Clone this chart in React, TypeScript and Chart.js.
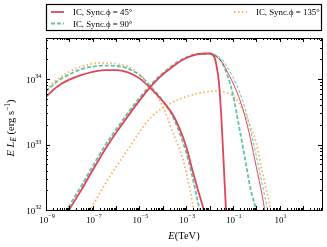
import React, { useEffect, useRef } from 'react';
import { Chart, registerables } from 'chart.js';
Chart.register(...registerables);

const SERIF = '"Liberation Serif", "DejaVu Serif", serif';

const RED = '#de4557';
const GREEN = '#66c2a5';
const ORANGE = '#fdae61';

// axis ranges
const X_MIN = 1e-9;
const X_MAX = 6.5e2;
const Y_MIN = 1e32;
const Y_MAX = 4.23e34;

// labelled tick exponents
const xLabelExps = [-9, -7, -5, -3, -1, 1];
const yLabelExps = [32, 33, 34];

const legendLabels = ['IC, Sync.ϕ = 45°', 'IC, Sync.ϕ = 90°', 'IC, Sync.ϕ = 135°'];

// values as log10(E / TeV) and log10(E L_E / erg s^-1)
const sync45LogE = [-9, -8.5, -8, -7.5, -7, -6.5, -6, -5.5, -5, -4.5, -4, -3.5, -3, -2.75, -2.5, -2.25, -2.1];
const sync45LogL = [33.73, 33.89, 33.99, 34.06, 34.11, 34.135, 34.135, 34.1, 34.01, 33.85, 33.66, 33.41, 32.97, 32.63, 32.31, 32.0, 31.75];

const sync90LogE = [-9, -8.5, -8, -7.5, -7, -6.5, -6, -5.5, -5, -4.5, -4, -3.5, -3, -2.75, -2.43, -2.3];
const sync90LogL = [33.81, 33.97, 34.07, 34.15, 34.19, 34.205, 34.2, 34.16, 34.06, 33.88, 33.67, 33.37, 32.88, 32.53, 32.0, 31.75];

const sync135LogE = [-9, -8.5, -8, -7.5, -7, -6.5, -6, -5.5, -5, -4.5, -4, -3.5, -3.25, -3, -2.67, -2.55];
const sync135LogL = [33.84, 34.0, 34.11, 34.19, 34.235, 34.245, 34.23, 34.19, 34.07, 33.87, 33.58, 33.12, 32.9, 32.58, 32.0, 31.75];

const ic45LogE = [-8.2, -8.02, -7.5, -7, -6.5, -6, -5.5, -5, -4.5, -4, -3.75, -3.5, -3, -2.5, -2, -1.8, -1.7, -1.6, -1.5, -1.4, -1.3, -1.25];
const ic45LogL = [31.9, 32.0, 32.3, 32.61, 32.91, 33.18, 33.43, 33.67, 33.89, 34.07, 34.14, 34.21, 34.32, 34.38, 34.39, 34.34, 34.2, 33.95, 33.45, 32.75, 32.02, 31.7];

const ic45ThinLogE = [-2.25, -2, -1.75, -1.5, -1.25, -1, -0.75, -0.5, -0.25, 0, 0.25, 0.36, 0.45];
const ic45ThinLogL = [34.385, 34.39, 34.35, 34.27, 34.12, 33.94, 33.73, 33.45, 33.09, 32.66, 32.23, 32.0, 31.8];

const ic90LogE = [-8.3, -8.11, -7.5, -7, -6.5, -6, -5.5, -5, -4.5, -4, -3.75, -3.5, -3, -2.5, -2, -1.75, -1.5, -1.25, -1, -0.75, -0.5, -0.25, 0, 0.1];
const ic90LogL = [31.88, 32.0, 32.36, 32.67, 32.97, 33.23, 33.48, 33.71, 33.92, 34.09, 34.16, 34.23, 34.33, 34.385, 34.39, 34.36, 34.27, 34.07, 33.76, 33.3, 32.82, 32.33, 32.0, 31.85];

const ic90ThinLogE = [-2.25, -2, -1.75, -1.5, -1.25, -1, -0.75, -0.5, -0.25, 0, 0.25, 0.48, 0.55];
const ic90ThinLogL = [34.385, 34.39, 34.37, 34.31, 34.19, 34.03, 33.83, 33.58, 33.23, 32.83, 32.4, 32.0, 31.85];

const ic135LogE = [-7.3, -7.1, -6.5, -6, -5.5, -5, -4.5, -4, -3.5, -3, -2.5, -2, -1.7, -1.5, -1.25, -1, -0.75, -0.5, -0.25, 0, 0.25, 0.5, 0.62, 0.7];
const ic135LogL = [31.86, 32.0, 32.38, 32.66, 32.92, 33.19, 33.42, 33.56, 33.66, 33.73, 33.78, 33.81, 33.82, 33.81, 33.79, 33.74, 33.64, 33.48, 33.27, 33.02, 32.6, 32.2, 32.0, 31.85];

const pts = (le: number[], ll: number[]) => le.map((e, i) => ({ x: Math.pow(10, e), y: Math.pow(10, ll[i]) }));

type Seg = { t: string; italic?: boolean; size: number; dy?: number };

function drawRich(ctx: CanvasRenderingContext2D, segs: Seg[], x: number, y: number, align: 'left' | 'center' | 'right') {
  const fontOf = (s: Seg) => `${s.italic ? 'italic ' : ''}${s.size}px ${SERIF}`;
  let total = 0;
  const widths = segs.map((s) => {
    ctx.font = fontOf(s);
    const w = ctx.measureText(s.t).width;
    total += w;
    return w;
  });
  let cx = align === 'left' ? x : align === 'center' ? x - total / 2 : x - total;
  ctx.textAlign = 'left';
  ctx.textBaseline = 'alphabetic';
  segs.forEach((s, i) => {
    ctx.font = fontOf(s);
    ctx.fillText(s.t, cx, y + (s.dy || 0));
    cx += widths[i];
  });
}

const expStr = (n: number) => (n < 0 ? '\u2212' + Math.abs(n) : String(n));

const decor = {
  id: 'decor',
  afterDraw(chart: any) {
    const { ctx, chartArea: a, scales } = chart;
    const xs = scales.x;
    const ys = scales.y;
    ctx.save();
    ctx.fillStyle = '#000';
    ctx.strokeStyle = '#000';
    ctx.lineWidth = 1;
    // frame
    ctx.strokeRect(Math.round(a.left) + 0.5, Math.round(a.top) + 0.5, Math.round(a.right - a.left), Math.round(a.bottom - a.top));
    // x ticks
    for (let d = -10; d <= 3; d++) {
      for (let m = 1; m <= 9; m++) {
        const v = m * Math.pow(10, d);
        if (v < X_MIN * 0.999 || v > X_MAX) continue;
        const px = Math.round(xs.getPixelForValue(v)) + 0.5;
        const len = m === 1 ? 4 : 2;
        ctx.beginPath();
        ctx.moveTo(px, a.bottom);
        ctx.lineTo(px, a.bottom - len);
        ctx.moveTo(px, a.top);
        ctx.lineTo(px, a.top + len);
        ctx.stroke();
      }
    }
    for (let d = 31; d <= 35; d++) {
      for (let m = 1; m <= 9; m++) {
        const v = m * Math.pow(10, d);
        if (v < Y_MIN * 0.999 || v > Y_MAX) continue;
        const py = Math.round(ys.getPixelForValue(v)) + 0.5;
        const len = m === 1 ? 4 : 2;
        ctx.beginPath();
        ctx.moveTo(a.left, py);
        ctx.lineTo(a.left + len, py);
        ctx.moveTo(a.right, py);
        ctx.lineTo(a.right - len, py);
        ctx.stroke();
      }
    }
    // x tick labels
    xLabelExps.forEach((e) => {
      const px = xs.getPixelForValue(Math.pow(10, e));
      drawRich(ctx, [
        { t: '10', size: 9 },
        { t: expStr(e), size: 6.3, dy: -4.2 },
      ], px + 1, a.bottom + 12.5, 'center');
    });
    // y tick labels
    yLabelExps.forEach((e) => {
      const py = ys.getPixelForValue(Math.pow(10, e));
      drawRich(ctx, [
        { t: '10', size: 9 },
        { t: expStr(e), size: 6.3, dy: -4.2 },
      ], a.left - 4.5, py + 3.6, 'right');
    });
    // x title
    drawRich(ctx, [
      { t: 'E', italic: true, size: 10.5 },
      { t: '(TeV)', size: 10.5 },
    ], (a.left + a.right) / 2, 238.5, 'center');
    // y title
    ctx.save();
    ctx.translate(14, (a.top + a.bottom) / 2 + 4);
    ctx.rotate(-Math.PI / 2);
    drawRich(ctx, [
      { t: 'E', italic: true, size: 10.5 },
      { t: ' ', size: 10.5 },
      { t: 'L', italic: true, size: 10.5 },
      { t: 'E', italic: true, size: 7.5, dy: 2.2 },
      { t: ' (erg s', size: 10.5 },
      { t: '\u22121', size: 7.5, dy: -4.5 },
      { t: ')', size: 10.5 },
    ], 0, 0, 'center');
    ctx.restore();

    // legend
    ctx.lineWidth = 1.2;
    ctx.strokeRect(46.5, 4.5, 275, 26);
    const items = [
      { label: legendLabels[0], color: RED, dash: [] as number[], x: 51, y: 12 },
      { label: legendLabels[1], color: GREEN, dash: [4, 2], x: 51, y: 23.5 },
      { label: legendLabels[2], color: ORANGE, dash: [1.5, 2.5], x: 234, y: 12 },
    ];
    items.forEach((it) => {
      ctx.save();
      ctx.strokeStyle = it.color;
      ctx.lineWidth = 1.8;
      ctx.setLineDash(it.dash);
      ctx.beginPath();
      ctx.moveTo(it.x, it.y);
      ctx.lineTo(it.x + 13, it.y);
      ctx.stroke();
      ctx.restore();
      ctx.fillStyle = '#000';
      drawRich(ctx, [{ t: it.label, size: 8.8 }], it.x + 22, it.y + 3, 'left');
    });
    ctx.restore();
  },
};

export default function App() {
  const ref = useRef<HTMLCanvasElement>(null);
  useEffect(() => {
    document.body.style.margin = '0';
    const mk = (label: string, data: any[], color: string, width: number, dash: number[]) => ({
      label,
      data,
      borderColor: color,
      backgroundColor: color,
      borderWidth: width,
      borderDash: dash,
      pointRadius: 0,
      fill: false,
      cubicInterpolationMode: 'monotone' as const,
    });
    const chart = new Chart(ref.current!, {
      type: 'line',
      data: {
        datasets: [
          mk('Sync 45', pts(sync45LogE, sync45LogL), RED, 1.8, []),
          mk('IC 45', pts(ic45LogE, ic45LogL), RED, 1.8, []),
          mk('IC 45 thin', pts(ic45ThinLogE, ic45ThinLogL), RED, 1, []),
          mk('Sync 90', pts(sync90LogE, sync90LogL), GREEN, 1.8, [4, 2]),
          mk('IC 90', pts(ic90LogE, ic90LogL), GREEN, 1.8, [4, 2]),
          mk('IC 90 thin', pts(ic90ThinLogE, ic90ThinLogL), GREEN, 1, [3, 2]),
          mk('Sync 135', pts(sync135LogE, sync135LogL), ORANGE, 1.8, [1.5, 2.5]),
          mk('IC 135', pts(ic135LogE, ic135LogL), ORANGE, 1.8, [1.5, 2.5]),
        ],
      },
      options: {
        animation: false,
        responsive: false,
        devicePixelRatio: 1,
        layout: { padding: { left: 46, top: 38, right: 5, bottom: 37 } },
        scales: {
          x: { type: 'logarithmic', min: X_MIN, max: X_MAX, display: false },
          y: { type: 'logarithmic', min: Y_MIN, max: Y_MAX, display: false },
        },
        plugins: { legend: { display: false }, tooltip: { enabled: false } },
      },
      plugins: [decor],
    });
    return () => chart.destroy();
  }, []);
  return (
    <div style={{ position: 'absolute', left: 0, top: 0, width: 327, height: 247, background: '#fff' }}>
      <canvas ref={ref} width={327} height={247} style={{ width: 327, height: 247 }} />
    </div>
  );
}
